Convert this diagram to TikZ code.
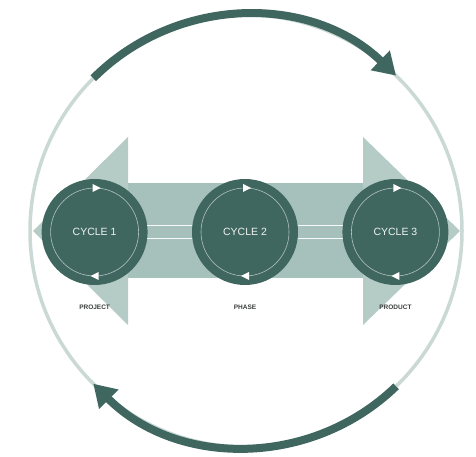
\documentclass[tikz,border=0pt]{standalone}
\usepackage{fontspec}
\setmainfont{Liberation Sans}
\usepackage{tikz}
\usetikzlibrary{arrows.meta,positioning,calc}
\definecolor{Ink}{HTML}{3A3F3D}
\definecolor{Pine}{HTML}{3F675F}
\definecolor{Sage}{HTML}{A6C1BB}
\definecolor{SageSoft}{HTML}{B5CBC6}
\definecolor{Mist}{HTML}{CAD9D5}
\tikzset{
  cyclenode/.style={circle,fill=Pine,minimum size=106pt,inner sep=0pt,text=white!92!Pine,font=\fontsize{10.5}{12}\selectfont},
  ring/.style={draw=white!60!Pine,line width=0.6pt},
  link/.style={draw=white!90!Sage,line width=0.6pt},
  turn/.style={draw=Pine,line width=8pt,-{Triangle[length=22pt,width=26pt]}},
  tag/.style={font=\fontsize{6.5}{7}\selectfont\bfseries,text=Ink}
}
\begin{document}
\begin{tikzpicture}[x=1pt,y=1pt]
  \useasboundingbox (0,0) rectangle (476,457);
  \coordinate (mid) at (246,226);
  % outer loop
  \draw[Mist,line width=3.5pt] (mid) circle (216pt);
  \draw[turn] (mid) ++(135:216pt) arc[start angle=135,end angle=46,radius=216pt];
  \draw[turn] (mid) ++(-46:216pt) arc[start angle=-46,end angle=-135,radius=216pt];
  % double arrow behind the cycles
  \fill[SageSoft] (128,320) -- (33,226) -- (128,132) -- cycle;
  \fill[SageSoft] (363,320) -- (460,226) -- (363,132) -- cycle;
  \fill[Sage] (128,179) rectangle (363,274);
  % cycles
  \node[cyclenode] (c2) at (245,225) {CYCLE 2};
  \node[cyclenode,left=44pt of c2] (c1) {CYCLE 1};
  \node[cyclenode,right=44pt of c2] (c3) {CYCLE 3};
  \foreach \c in {c1,c2,c3} {
    \draw[ring] (\c.center) circle (44pt);
    \fill[white] ($(\c.center)+(-2,48)$) -- ++(8,-4) -- ++(-8,-4) -- cycle;
    \fill[white] ($(\c.center)+(4,-40)$) -- ++(-8,-4) -- ++(8,-4) -- cycle;
  }
  \draw[link] (c1.7) -- (c2.173);
  \draw[link] (c1.-7) -- (c2.-173);
  \draw[link] (c2.7) -- (c3.173);
  \draw[link] (c2.-7) -- (c3.-173);
  \node[tag,below=16pt of c1] (t1) {PROJECT};
  \node[tag,below=16pt of c2] (t2) {PHASE};
  \node[tag,below=16pt of c3] (t3) {PRODUCT};
\end{tikzpicture}
\end{document}
